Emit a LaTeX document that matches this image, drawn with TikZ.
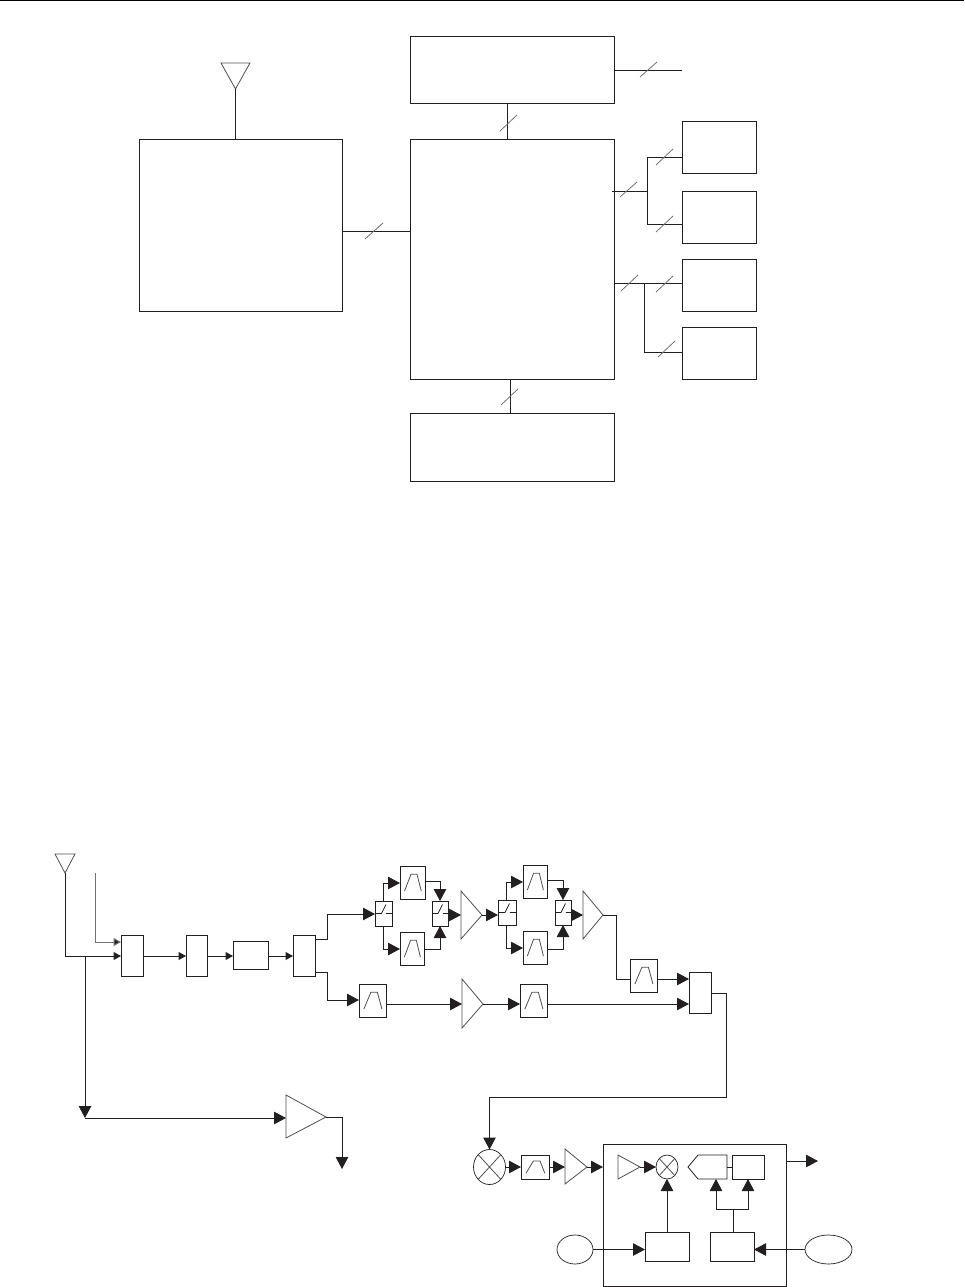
\documentclass[tikz,border=0pt]{standalone}
\usetikzlibrary{arrows.meta,shapes.geometric}
\definecolor{ink}{HTML}{231F20}
\definecolor{thin}{HTML}{505050}
\definecolor{tickc}{HTML}{707070}
\tikzset{
  boxs/.style={draw=ink,line width=1pt,inner sep=0,outer sep=0,fill=white},
  oval/.style={ellipse,draw=ink,line width=.7pt,inner sep=0,outer sep=0},
  wire/.style={draw=ink,line width=1pt},
  bighead/.style={wire,-{Triangle[length=12pt,width=12.5pt,fill=ink]}},
  smallhead/.style={wire,-{Triangle[length=7.5pt,width=8pt,fill=ink]}},
  tick/.style={draw=tickc,line width=.8pt},
  sym/.style={draw=thin,line width=.8pt,line join=miter},
  swl/.style={draw=ink,line width=.8pt}
}
\newcommand\bx[5]{\node[boxs,minimum width=#4pt-#2pt,minimum height=#5pt-#3pt] (#1) at ({(#2+#4)/2},{(#3+#5)/2}) {};}
\newcommand\flt[5]{\bx{#1}{#2}{#3}{#4}{#5}
  \draw[sym] ({#2+.18*(#4-#2)},{#3+.76*(#5-#3)}) -- ({#2+.44*(#4-#2)},{#3+.25*(#5-#3)}) -- ({#2+.68*(#4-#2)},{#3+.25*(#5-#3)}) -- ({#2+.85*(#4-#2)},{#3+.76*(#5-#3)});}
\newcommand\swt[5]{\bx{#1}{#2}{#3}{#4}{#5}
  \draw[swl] (#1.west) -- ([xshift=-2pt]#1.center) -- ([xshift=2.5pt,yshift=9pt]#1.center);
  \draw[swl] ([xshift=2.5pt]#1.center) -- (#1.east);}
% name, left x, top y, bottom y, apex x, apex y
\newcommand\amp[6]{\draw[sym,fill=white] (#2,#3) -- (#5,#6) -- (#2,#4) -- cycle;
  \coordinate (#1) at (#5,#6); \coordinate (#1i) at (#2,#6);}
\newcommand\ant[5]{\draw[sym] (#2,#4) -- (#3,#4) -- ({(#2+#3)/2},#5) -- cycle;
  \coordinate (#1) at ({(#2+#3)/2},#5);}
\begin{document}
\begin{tikzpicture}[x=1pt,y=-1pt]
\useasboundingbox (0,0) rectangle (964,1287);
\coordinate (hl) at (0,.6); \coordinate (hr) at (964,.6);
\draw[draw=black,line width=1.2pt] (hl) -- (hr);
%%%%% upper diagram
\bx{A}{139}{139.5}{342}{311}
\bx{B}{410.5}{36.5}{614}{104}
\bx{C}{410.5}{139.5}{614}{379}
\bx{D}{410.5}{413}{614}{481}
\bx{Ea}{682}{121.5}{756}{173}
\bx{Eb}{682}{191}{756}{243}
\bx{Ec}{682}{259}{756}{311}
\bx{Ed}{682}{327}{756}{379}
\ant{ta}{221}{250}{63}{89}
\draw[wire] (ta) -- (ta |- A.north);
\coordinate (ac) at (342,231);
\draw[wire] (ac) -- (ac -| C.west);
\coordinate (bc) at (507,104);
\draw[wire] (bc) -- (bc |- C.north);
\coordinate (bo) at (682,71);
\draw[wire] (bo -| B.east) -- (bo);
\coordinate (co) at (647,191);
\coordinate (coa) at (647,157);
\coordinate (cob) at (647,224);
\draw[wire] (612,191) -- (co);
\draw[wire] (Ea.west |- coa) -- (coa) -- (cob) -- (Eb.west |- cob);
\coordinate (cp) at (644,283);
\coordinate (cpb) at (644,352);
\draw[wire] (C.east |- cp) -- (Ec.west |- cp);
\draw[wire] (cp) -- (cpb) -- (Ed.west |- cpb);
\coordinate (cd) at (510,379);
\draw[wire] (cd) -- (cd |- D.north);
\foreach \a/\b/\c/\d in {365/239/383/223,500/131/517/115,640/77/657/62,620/197/637/182,656/165/673/149,656/232/673/216,621/291/638/275,656/292/673/276,658/357/675/341,501/405/518/389}
  \draw[tick] (\a,\b) -- (\c,\d);
%%%%% lower diagram: input chain
\ant{tc}{55}{75}{854}{873}
\bx{ba}{121}{935}{143}{976}
\bx{bb}{186}{935}{207}{976}
\bx{bc2}{233}{941}{268}{969}
\bx{bd}{293}{935}{315}{976}
\coordinate (ln) at (65,956);
\draw[smallhead] (tc) -- (ln) -- (ln -| ba.west);
\coordinate (gt) at (95,873); \coordinate (gb) at (95,942);
\draw[smallhead,draw=tickc] (gt) -- (gb) -- (gb -| ba.west);
\draw[smallhead] (ba.east |- ln) -- (ln -| bb.west);
\draw[smallhead] (bb.east |- ln) -- (ln -| bc2.west);
\draw[smallhead] (bc2.east |- ln) -- (ln -| bd.west);
% lower branch to amplifier
\coordinate (jn) at (85,956); \coordinate (jd) at (85,1118);
\draw[bighead] (jn) -- (jd);
\amp{aa}{286}{1095}{1138}{326}{1117}
\draw[bighead] (jd) -- (286,1118);
\coordinate (ao) at (342,1117); \coordinate (ad) at (342,1169);
\draw[bighead] (aa) -- (ao) -- (ad);
%%%%% upper branch
\swt{sa}{375}{901}{392}{926}
\flt{fa}{400}{866}{425}{899}
\flt{fb}{400}{932}{424}{965}
\swt{sb}{432}{901}{448}{926}
\amp{ab}{461}{891}{939}{482}{915}
\swt{sc}{498}{900}{516}{925}
\flt{fc}{523}{865}{547}{898}
\flt{fd}{523}{931}{547}{964}
\swt{sd}{555}{900}{571}{925}
\amp{ac2}{583}{891}{939}{603}{915}
\coordinate (da) at (327,939); \coordinate (db) at (327,914);
\draw[bighead] (bd.east |- da) -- (da) -- (db) -- (db -| sa.west);
\coordinate (e1) at (383,883); \coordinate (e2) at (383,949);
\draw[bighead] (e1 |- sa.north) -- (e1) -- (e1 -| fa.west);
\draw[bighead] (e2 |- sa.south) -- (e2) -- (e2 -| fb.west);
\coordinate (g1) at (440,881); \coordinate (g2) at (440,949);
\draw[bighead] (fa.east |- g1) -- (g1) -- (g1 |- sb.north);
\draw[bighead] (fb.east |- g2) -- (g2) -- (g2 |- sb.south);
\draw[bighead] (sb.east |- abi) -- (abi);
\draw[bighead] (ab) -- (sc.west |- ab);
\coordinate (e3) at (506,882); \coordinate (e4) at (506,948);
\draw[bighead] (e3 |- sc.north) -- (e3) -- (e3 -| fc.west);
\draw[bighead] (e4 |- sc.south) -- (e4) -- (e4 -| fd.west);
\coordinate (g3) at (563,880); \coordinate (g4) at (563,949);
\draw[bighead] (fc.east |- g3) -- (g3) -- (g3 |- sd.north);
\draw[bighead] (fd.east |- g4) -- (g4) -- (g4 |- sd.south);
\draw[bighead] (sd.east |- ac2i) -- (ac2i);
\flt{fe}{630}{959}{657}{992}
\bx{M}{689}{972}{711}{1013}
\coordinate (h1) at (616,915); \coordinate (h2) at (616,979);
\draw[wire] (ac2) -- (h1) -- (h2) -- (fe.west |- h2);
\draw[bighead] (fe.east |- h2) -- (M.west |- h2);
%%%%% middle branch
\flt{ff}{359}{984}{386}{1017}
\amp{ad2}{462}{979}{1028}{483}{1004}
\flt{fg}{520}{984}{547}{1017}
\coordinate (k1) at (327,972); \coordinate (k2) at (327,1000);
\draw[bighead] (bd.east |- k1) -- (k1) -- (k2) -- (k2 -| ff.west);
\draw[bighead] (ff.east |- ad2i) -- (ad2i);
\draw[bighead] (ad2) -- (fg.west |- ad2);
\draw[bighead] (fg.east |- ad2) -- (M.west |- ad2);
%%%%% down to receiver
\node[oval,minimum width=32pt,minimum height=35pt] (xa) at (489.5,1167) {};
\draw[sym] (xa.north west) -- (xa.south east) (xa.north east) -- (xa.south west);
\coordinate (m1) at (726,993); \coordinate (m2) at (726,1097); \coordinate (m3) at (489.5,1097);
\draw[bighead] (M.east |- m1) -- (m1) -- (m2) -- (m3) -- (xa.north);
\flt{fh}{521}{1155}{549}{1179}
\amp{ae}{565}{1149}{1184}{587}{1167}
\bx{Big}{603}{1144}{786}{1286}
\draw[bighead] (xa.east) -- (fh.west);
\draw[bighead] (fh.east) -- (aei);
\draw[bighead] (ae) -- (Big.west |- ae);
\amp{af}{618}{1155}{1179}{640}{1167}
\node[oval,minimum width=22pt,minimum height=24pt] (xb) at (667,1167) {};
\draw[sym] (xb.north west) -- (xb.south east) (xb.north east) -- (xb.south west);
\draw[bighead] (af) -- (xb.west);
\coordinate (p1) at (688,1167); \coordinate (p2) at (727,1167);
\draw[sym,draw=ink] (p1) -- (698,1155) -- (727,1155) -- (727,1179) -- (698,1179) -- cycle;
\bx{R}{732}{1155}{764}{1179}
\draw[wire] (p2) -- (R.west);
\bx{Pa}{645}{1232}{689}{1261}
\bx{Pb}{710}{1232}{754}{1261}
\draw[bighead] (xb.south |- Pa.north) -- (xb.south);
\coordinate (q0) at (733,1209); \coordinate (q1) at (716,1209); \coordinate (q2) at (748,1209);
\draw[wire] (q0 |- Pb.north) -- (q0);
\draw[bighead] (q0) -- (q1) -- (716,1179);
\draw[bighead] (q0) -- (q2) -- (748,1179);
\node[oval,minimum width=36pt,minimum height=29pt] (oa) at (575,1249.5) {};
\node[oval,minimum width=47pt,minimum height=29pt] (ob) at (828.5,1249.5) {};
\draw[bighead] (oa.east) -- (Pa.west |- oa.east);
\draw[bighead] (ob.west) -- (Pb.east |- ob.west);
\coordinate (ro) at (818,1161);
\draw[bighead] (Big.east |- ro) -- (ro);
\end{tikzpicture}
\end{document}
